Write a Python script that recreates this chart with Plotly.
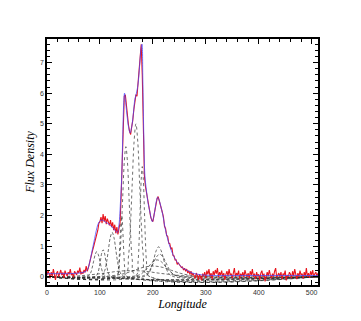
import plotly.graph_objects as go

# observed spectrum, sampled every 2 units of longitude
flux = [
    0.05, 0.20, 0.10, -0.05, 0.15, 0.02, 0.25, 0.08, -0.10, 0.12,
    0.18, 0.00, 0.10, 0.22, 0.05, 0.14, -0.04, 0.20, 0.10, 0.02,
    0.15, 0.08, 0.25, 0.05, 0.12, -0.02, 0.18, 0.10, 0.06, 0.20,
    0.12, 0.30, 0.08, 0.15, 0.10, 0.22, 0.14, 0.35, 0.18, 0.28,
    0.40, 0.55, 0.70, 0.85, 0.98, 1.12, 1.22, 1.40, 1.52, 1.75,
    1.80, 1.95, 1.75, 2.05, 1.80, 1.98, 1.72, 1.90, 1.78, 1.68,
    1.85, 1.62, 1.78, 1.52, 1.70, 1.42, 1.62, 1.38, 1.58, 1.75,
    2.60, 4.00, 5.20, 5.90, 5.95, 5.60, 5.20, 4.95, 4.75, 4.65,
    4.90, 5.10, 5.45, 5.75, 5.95, 5.90, 6.40, 6.85, 7.30, 7.60,
    6.60, 4.30, 3.30, 2.95, 2.75, 2.50, 2.35, 2.20, 1.95, 1.85,
    1.80, 2.00, 2.20, 2.45, 2.55, 2.62, 2.50, 2.40, 2.25, 2.10,
    1.95, 1.65, 1.58, 1.35, 1.32, 1.10, 1.08, 0.90, 0.95, 0.70,
    0.68, 0.55, 0.55, 0.40, 0.45, 0.38, 0.35, 0.30, 0.32, 0.22,
    0.28, 0.18, 0.25, 0.12, 0.20, 0.08, 0.18, 0.05, 0.12, 0.02,
    -0.05, 0.12, 0.05, -0.10, 0.08, 0.00, -0.12, 0.10, 0.02, 0.15,
    -0.05, 0.20, 0.08, 0.25, 0.00, 0.12, -0.08, 0.18, 0.05, 0.22,
    0.10, 0.28, -0.02, 0.15, 0.05, 0.20, 0.00, 0.12, -0.10, 0.08,
    0.18, 0.02, 0.25, 0.05, 0.10, -0.05, 0.15, 0.28, 0.00, 0.12,
    0.05, 0.20, -0.08, 0.10, 0.02, 0.15, -0.02, 0.22, 0.08, 0.00,
    0.12, -0.05, 0.18, 0.05, 0.25, 0.00, 0.10, -0.08, 0.15, 0.02,
    0.08, -0.10, 0.12, 0.20, 0.00, 0.10, -0.15, 0.05, 0.15, 0.02,
    0.22, 0.05, -0.05, 0.10, 0.00, 0.18, 0.28, -0.02, 0.08, 0.12,
    0.00, 0.15, -0.08, 0.10, 0.05, 0.20, -0.12, 0.06, 0.00, 0.15,
    0.08, -0.05, 0.18, 0.02, 0.25, 0.05, -0.08, 0.12, 0.00, 0.20,
    0.05, 0.10, -0.06, 0.15, 0.02, 0.28, 0.00, 0.12, -0.04, 0.18,
    0.05, 0.22, -0.02, 0.10, 0.15, 0.00, 0.12,
]
longitude = [2 * i for i in range(len(flux))]

# total fitted profile
fit_x = [0, 20, 40, 60, 70, 75, 78, 81, 84, 87, 90, 93, 96, 99, 102, 105,
         108, 111, 114, 117, 120, 123, 126, 129, 133, 136, 139, 141, 143,
         145, 146.5, 148, 151, 154, 157, 160, 163, 166, 169, 172, 175, 178,
         179.5, 181, 183, 185, 188, 191, 194, 197, 199, 201, 204, 207, 209,
         212, 215, 219, 223, 227, 231, 235, 240, 245, 250, 255, 260, 268,
         275, 285, 300, 320, 400, 512]
fit_y = [0.10, 0.10, 0.10, 0.12, 0.15, 0.20, 0.30, 0.50, 0.75, 1.00, 1.25,
         1.50, 1.70, 1.80, 1.85, 1.85, 1.82, 1.78, 1.75, 1.72, 1.68, 1.62,
         1.57, 1.50, 1.45, 1.70, 2.50, 3.20, 4.50, 5.70, 6.00, 5.80, 5.30,
         4.90, 4.70, 4.90, 5.30, 5.80, 6.00, 6.30, 6.90, 7.50, 7.60, 6.50,
         4.50, 3.30, 2.80, 2.40, 2.15, 1.90, 1.80, 1.90, 2.20, 2.50, 2.60,
         2.50, 2.30, 2.00, 1.60, 1.30, 1.05, 0.85, 0.65, 0.50, 0.40, 0.30,
         0.25, 0.18, 0.12, 0.08, 0.05, 0.04, 0.04, 0.04]

# individual gaussian components
component_x = [
    [76, 82, 85, 88, 91, 94, 97, 100, 103, 106, 112],
    [91, 96, 98.5, 101, 103.5, 106, 108.5, 111, 113.5, 116, 121],
    [102, 109, 112.5, 116, 119.5, 123, 126.5, 130, 133.5, 137, 144],
    [132, 135, 136.5, 138, 139.5, 141, 142.5, 144, 145.5, 147, 150],
    [131, 137, 140, 143, 146, 149, 152, 155, 158, 161, 167],
    [147, 154, 157.5, 161, 164.5, 168, 171.5, 175, 178.5, 182, 189],
    [168, 172, 174, 176, 178, 180, 182, 184, 186, 188, 192],
    [184, 193, 197.5, 202, 206.5, 211, 215.5, 220, 224.5, 229, 238],
    [177, 189, 195, 201, 207, 213, 219, 225, 231, 237, 249],
    [160, 176, 184, 192, 200, 208, 216, 224, 232, 240, 256],
    [95, 130, 147.5, 165, 182.5, 200, 217.5, 235, 252.5, 270, 305],
    [10, 60, 85, 110, 135, 160, 185, 210, 235, 260, 310],
]
component_y = [
    [0.01, 0.11, 0.27, 0.50, 0.72, 0.82, 0.72, 0.50, 0.27, 0.11, 0.01],
    [0.01, 0.12, 0.29, 0.53, 0.78, 0.88, 0.78, 0.53, 0.29, 0.12, 0.01],
    [0.02, 0.20, 0.47, 0.88, 1.28, 1.45, 1.28, 0.88, 0.47, 0.20, 0.02],
    [0.02, 0.27, 0.65, 1.21, 1.76, 2.00, 1.76, 1.21, 0.65, 0.27, 0.02],
    [0.05, 0.57, 1.38, 2.58, 3.75, 4.25, 3.75, 2.58, 1.38, 0.57, 0.05],
    [0.06, 0.68, 1.63, 3.04, 4.41, 5.00, 4.41, 3.04, 1.63, 0.68, 0.06],
    [0.04, 0.49, 1.17, 2.19, 3.18, 3.60, 3.18, 2.19, 1.17, 0.49, 0.04],
    [0.01, 0.13, 0.32, 0.59, 0.86, 0.98, 0.86, 0.59, 0.32, 0.13, 0.01],
    [0.01, 0.10, 0.24, 0.45, 0.65, 0.74, 0.65, 0.45, 0.24, 0.10, 0.01],
    [0.01, 0.07, 0.18, 0.33, 0.49, 0.55, 0.49, 0.33, 0.18, 0.07, 0.01],
    [0.00, 0.05, 0.11, 0.21, 0.31, 0.35, 0.31, 0.21, 0.11, 0.05, 0.00],
    [0.00, 0.03, 0.07, 0.12, 0.18, 0.20, 0.18, 0.12, 0.07, 0.03, 0.00],
]
narrow = {3, 4, 5, 6}

fig = go.Figure()

for i, (cx, cy) in enumerate(zip(component_x, component_y)):
    fig.add_trace(go.Scatter(
        x=[0] + cx + [512], y=[0] + cy + [0],
        mode="lines", line_shape="spline",
        line=dict(color="rgba(40,40,40,0.85)", width=0.8,
                  dash="dot" if i in narrow else "3px,2px"),
        hoverinfo="skip",
    ))

fig.add_trace(go.Scatter(
    x=longitude, y=flux, mode="lines",
    line=dict(color="#e8141c", width=1.1),
))
fig.add_trace(go.Scatter(
    x=fit_x, y=fit_y, mode="lines", line_shape="spline",
    line=dict(color="rgba(70,70,255,0.75)", width=1),
))

axis_common = dict(
    showline=True, linecolor="black", linewidth=1.5, mirror="allticks",
    ticks="inside", ticklen=5, tickwidth=1.2, tickcolor="black",
    showgrid=False, zeroline=False, automargin=False,
    tickfont=dict(family="Liberation Sans", size=7, color="#333"),
)

# page body adds 8px offset, so margins are shifted to compensate
fig.update_layout(
    width=361, height=321,
    margin=dict(l=39, r=51, t=31, b=44),
    paper_bgcolor="white", plot_bgcolor="white",
    showlegend=False,
    xaxis=dict(
        range=[0, 512], dtick=100, tick0=0,
        minor=dict(dtick=20, ticks="inside", ticklen=3, tickcolor="black"),
        title=dict(text="<i>Longitude</i>", standoff=4,
                   font=dict(family="Liberation Serif", size=12, color="black")),
        **axis_common,
    ),
    yaxis=dict(
        range=[-0.27, 7.77], dtick=1, tick0=0,
        minor=dict(dtick=0.2, ticks="inside", ticklen=3, tickcolor="black"),
        title=dict(text="<i>Flux Density</i>", standoff=3,
                   font=dict(family="Liberation Serif", size=12, color="black")),
        **axis_common,
    ),
)

fig.write_html("out.html")
